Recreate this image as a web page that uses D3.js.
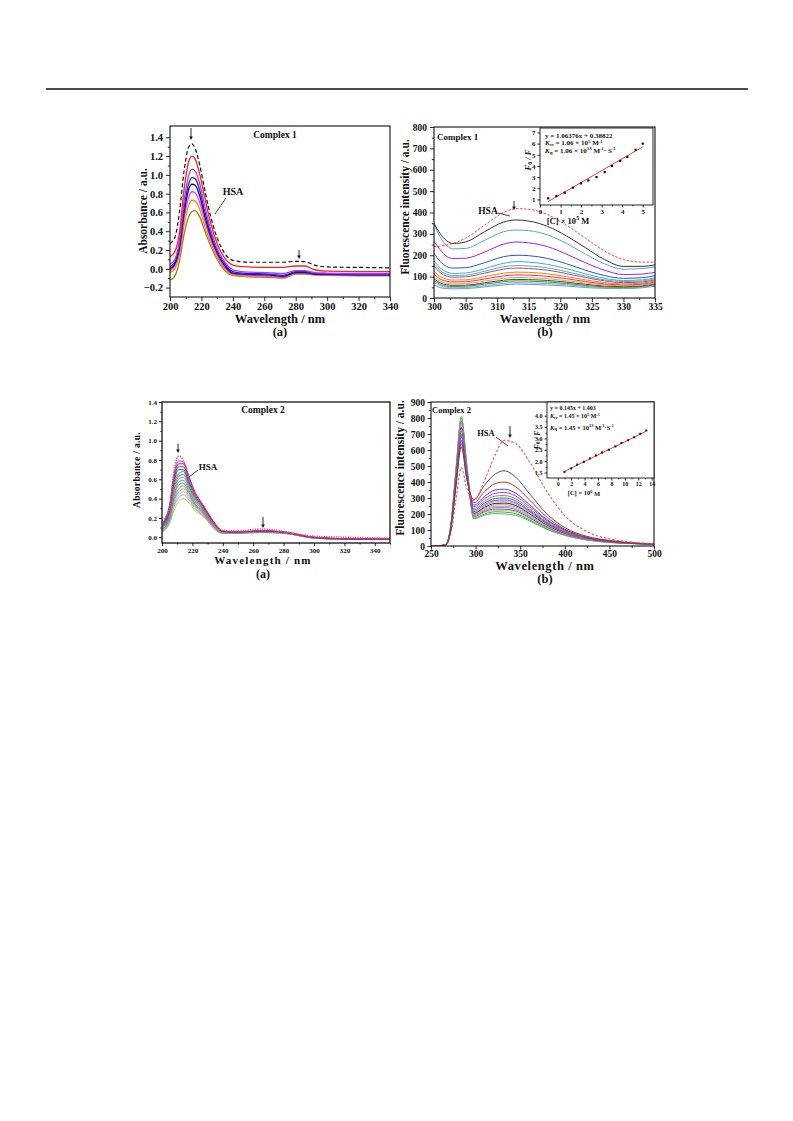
<!DOCTYPE html>
<html><head><meta charset="utf-8">
<script src="https://cdn.jsdelivr.net/npm/d3@7"></script>
<style>body{margin:0;background:#fff}svg{display:block}text{font-family:'Liberation Serif','Times New Roman',serif;font-weight:bold;fill:#111}</style>
</head><body><svg id="c" width="793" height="1121"></svg>
<script>
// ---------- Panel 1(a): Complex 1 absorbance ----------
const p1aWL = [200,203,206,209,212,214,216,219,222,226,230,235,240,250,262,272,280,286,292,300,320,340];
const p1aHSA    = [0.27,0.33,0.6,1.05,1.3,1.33,1.28,1.1,0.85,0.55,0.33,0.16,0.09,0.07,0.07,0.07,0.08,0.075,0.04,0.02,0.015,0.01];
const p1aRed    = [0.13,0.18,0.38,0.85,1.15,1.2,1.17,1.0,0.77,0.48,0.27,0.11,0.04,0.02,0.015,0.015,0.03,0.03,-0.01,-0.025,-0.03,-0.03];
const p1aViolet = [0.05,0.1,0.3,0.73,1.0,1.06,1.04,0.9,0.68,0.41,0.22,0.07,-0.01,-0.035,-0.04,-0.05,-0.02,-0.02,-0.04,-0.045,-0.05,-0.05];
const p1aBlue   = [0.02,0.07,0.25,0.66,0.91,0.97,0.96,0.83,0.62,0.37,0.19,0.05,-0.03,-0.05,-0.055,-0.07,-0.03,-0.03,-0.05,-0.055,-0.06,-0.06];
const p1aNavy   = [0.0,0.05,0.22,0.6,0.85,0.9,0.89,0.77,0.57,0.34,0.17,0.03,-0.045,-0.06,-0.065,-0.08,-0.04,-0.04,-0.055,-0.06,-0.065,-0.065];
const p1aMag    = [-0.02,0.03,0.19,0.54,0.77,0.82,0.81,0.7,0.52,0.31,0.15,0.01,-0.055,-0.07,-0.075,-0.09,-0.045,-0.045,-0.06,-0.065,-0.07,-0.07];
const p1aOrange = [-0.04,0.0,0.15,0.47,0.68,0.73,0.72,0.63,0.46,0.27,0.12,-0.01,-0.065,-0.08,-0.08,-0.095,-0.05,-0.05,-0.065,-0.07,-0.07,-0.07];
const p1aOlive  = [-0.12,-0.08,0.08,0.37,0.56,0.61,0.62,0.55,0.41,0.24,0.1,-0.02,-0.07,-0.085,-0.09,-0.1,-0.055,-0.055,-0.065,-0.07,-0.075,-0.075];
const p1aXTicks = [200,220,240,260,280,300,320,340];
const p1aYTicks = [-0.2,0.0,0.2,0.4,0.6,0.8,1.0,1.2,1.4];

// ---------- Panel 1(b): Complex 1 fluorescence ----------
const p1bWL = [300,301,302,303,305,308,311,313,315,318,321,324,327,330,333,335];
const p1bHSA = [240,243,248,255,280,340,400,418,415,390,340,280,220,180,168,168];
const p1bS1  = [350,300,268,255,262,310,355,365,360,335,290,235,180,148,148,155];
const p1bS2  = [345,285,245,230,232,270,310,318,315,295,255,205,160,135,138,145];
const p1bS3  = [265,225,195,185,186,215,252,262,258,240,205,165,130,110,112,120];
const p1bS4  = [210,170,148,140,142,165,193,200,198,185,160,130,105,92,95,105];
const p1bS5  = [175,140,122,115,117,137,162,170,168,157,137,113,92,82,85,95];
const p1bS6  = [160,128,112,105,107,125,146,152,150,141,123,103,85,77,80,90];
const p1bS7  = [150,118,103,97,99,116,135,140,138,130,114,96,80,72,75,85];
const p1bS8  = [125,100,88,84,85,100,116,121,120,113,100,85,72,66,70,80];
const p1bS9  = [112,88,78,75,76,89,103,108,107,101,90,77,66,61,65,75];
const p1bS10 = [100,78,69,66,67,79,92,96,95,90,81,70,61,57,61,70];
const p1bS11 = [90,70,62,59,60,71,83,87,86,82,74,64,56,53,57,66];
const p1bS12 = [82,63,56,54,55,65,76,80,79,75,68,59,52,50,54,62];
const p1bS13 = [72,56,50,48,49,58,68,72,71,68,62,54,48,47,51,58];
const p1bS14 = [62,48,44,43,44,52,61,65,64,61,56,49,45,44,48,55];
const p1bXTicks = [300,305,310,315,320,325,330,335];
const p1bYTicks = [0,100,200,300,400,500,600,700,800];
// inset 1(b)
const ins1X = [0.4,0.8,1.2,1.6,2.0,2.35,2.75,3.15,3.5,3.9,4.25,4.65,5.0];
const ins1Y = [1.1,1.3,1.6,2.05,2.45,2.7,3.0,3.45,4.0,4.45,4.8,5.45,6.0];
const ins1Fit = [1.06376, 0.38822];
const ins1XTicks = [0,1,2,3,4,5];
const ins1YTicks = [1,2,3,4,5,6,7];

// ---------- Panel 2(a): Complex 2 absorbance ----------
const p2aWL = [200,205,208,211,214,218,222,226,230,235,240,250,265,280,300,320,350];
const p2aHSA = [0.17,0.3,0.7,0.84,0.8,0.6,0.42,0.33,0.22,0.12,0.07,0.065,0.085,0.06,0.01,0.0,-0.01];
const p2aS1  = [0.14,0.34,0.66,0.79,0.78,0.62,0.46,0.36,0.26,0.14,0.065,0.055,0.07,0.055,0.0,-0.015,-0.02];
const p2aS2  = [0.13,0.32,0.63,0.76,0.76,0.6,0.45,0.35,0.25,0.135,0.063,0.054,0.068,0.054,0.0,-0.015,-0.02];
const p2aS3  = [0.12,0.3,0.6,0.73,0.73,0.58,0.43,0.34,0.245,0.13,0.06,0.053,0.066,0.053,-0.002,-0.016,-0.02];
const p2aS4  = [0.11,0.28,0.57,0.7,0.7,0.56,0.42,0.33,0.24,0.125,0.058,0.052,0.064,0.052,-0.003,-0.017,-0.02];
const p2aS5  = [0.10,0.27,0.54,0.66,0.68,0.54,0.40,0.32,0.23,0.12,0.056,0.051,0.062,0.05,-0.004,-0.018,-0.02];
const p2aS6  = [0.09,0.25,0.5,0.63,0.65,0.52,0.39,0.31,0.22,0.115,0.054,0.05,0.06,0.049,-0.005,-0.018,-0.02];
const p2aS7  = [0.085,0.24,0.47,0.6,0.62,0.5,0.37,0.3,0.21,0.11,0.052,0.048,0.058,0.048,-0.006,-0.019,-0.02];
const p2aS8  = [0.08,0.22,0.44,0.57,0.59,0.48,0.36,0.29,0.2,0.105,0.05,0.047,0.056,0.046,-0.007,-0.019,-0.02];
const p2aS9  = [0.075,0.21,0.42,0.54,0.56,0.46,0.34,0.28,0.195,0.1,0.048,0.046,0.055,0.045,-0.008,-0.02,-0.02];
const p2aS10 = [0.07,0.2,0.39,0.5,0.53,0.44,0.33,0.27,0.19,0.095,0.046,0.045,0.053,0.044,-0.008,-0.02,-0.02];
const p2aS11 = [0.065,0.18,0.37,0.47,0.5,0.42,0.32,0.26,0.18,0.09,0.045,0.044,0.052,0.043,-0.009,-0.02,-0.02];
const p2aS12 = [0.06,0.17,0.34,0.44,0.47,0.4,0.3,0.25,0.175,0.085,0.043,0.043,0.05,0.042,-0.01,-0.02,-0.02];
const p2aS13 = [0.055,0.16,0.32,0.41,0.44,0.38,0.29,0.24,0.17,0.08,0.042,0.042,0.049,0.041,-0.01,-0.02,-0.02];
const p2aS14 = [0.05,0.14,0.28,0.37,0.4,0.35,0.27,0.23,0.165,0.075,0.04,0.04,0.047,0.04,-0.01,-0.02,-0.02];
const p2aXTicks = [200,220,240,260,280,300,320,340];
const p2aYTicks = [0.0,0.2,0.4,0.6,0.8,1.0,1.2,1.4];

// ---------- Panel 2(b): Complex 2 fluorescence ----------
const p2bWL = [250,266,272,278,284,290,298,310,322,332,345,360,380,400,425,450,500];
const p2bHSA = [0,3,70,290,490,360,285,410,570,660,640,530,340,190,90,45,15];
const p2bS1  = [0,5,90,370,620,420,290,380,450,470,430,330,200,115,60,35,12];
const p2bS2  = [0,5,95,385,640,430,270,340,390,400,370,290,180,105,55,32,12];
const p2bS3  = [0,5,100,395,660,440,255,310,350,355,330,260,165,100,52,30,12];
const p2bS4  = [0,5,100,405,680,450,245,295,330,335,312,248,158,95,50,29,12];
const p2bS5  = [0,5,105,410,690,455,235,280,312,315,295,235,150,90,48,28,12];
const p2bS6  = [0,5,105,420,700,460,225,268,297,300,282,225,145,87,47,27,12];
const p2bS7  = [0,5,108,430,720,470,215,258,285,288,270,217,140,85,46,27,12];
const p2bS8  = [0,5,110,435,730,475,210,250,276,278,262,210,136,83,45,26,12];
const p2bS9  = [0,5,110,440,740,480,205,242,266,268,253,204,132,80,44,26,12];
const p2bS10 = [0,5,112,448,750,485,200,235,257,258,244,197,128,78,43,25,12];
const p2bS11 = [0,5,114,452,760,490,195,228,248,248,235,190,124,76,42,25,12];
const p2bS12 = [0,5,115,458,770,495,190,222,240,240,228,185,120,74,41,24,12];
const p2bS13 = [0,5,117,465,780,500,185,215,231,230,219,178,116,72,40,24,12];
const p2bS14 = [0,5,118,470,790,505,180,208,223,222,211,172,112,70,39,23,12];
const p2bS15 = [0,5,120,476,800,510,175,200,214,212,202,165,108,68,38,23,12];
const p2bS16 = [0,5,121,482,810,515,170,192,203,200,192,158,104,66,37,22,12];
const p2bXTicks = [250,300,350,400,450,500];
const p2bYTicks = [0,100,200,300,400,500,600,700,800,900];
// inset 2(b)
const ins2X = [1,2,2.9,3.9,4.8,5.7,6.6,7.6,8.6,9.5,10.5,11.4,12.3,13.2];
const ins2Y = [1.53,1.68,1.85,1.97,2.12,2.25,2.38,2.5,2.65,2.8,2.92,3.05,3.2,3.35];
const ins2Fit = [0.145, 1.403];
const ins2XTicks = [0,2,4,6,8,10,12,14];
const ins2YTicks = [1.5,2.0,2.5,3.0,3.5,4.0];

// ---------------- drawing ----------------
const svg = d3.select('#c');
svg.append('line').attr('x1',46).attr('x2',748).attr('y1',89).attr('y2',89).attr('stroke','#111').attr('stroke-width',1.6);

let clipN = 0;
function makePanel(o){
  const x = d3.scaleLinear().domain(o.xd).range([o.l,o.r]);
  const y = d3.scaleLinear().domain(o.yd).range([o.b,o.t]);
  const g = svg.append('g');
  if(o.bg) g.append('rect').attr('x',o.l).attr('y',o.t).attr('width',o.r-o.l).attr('height',o.b-o.t).attr('fill','#fff');
  const id = 'clip'+(clipN++);
  g.append('clipPath').attr('id',id).append('rect').attr('x',o.l).attr('y',o.t).attr('width',o.r-o.l).attr('height',o.b-o.t);
  const plot = g.append('g').attr('clip-path',`url(#${id})`);
  const fmt = o.fmt || (d=>d);
  const gx = g.append('g').attr('transform',`translate(0,${o.b})`)
    .call(d3.axisBottom(x).tickValues(o.xt).tickSize(o.tk).tickPadding(o.tpx!=null?o.tpx:o.tp).tickFormat(d=>d));
  const gy = g.append('g').attr('transform',`translate(${o.l},0)`)
    .call(d3.axisLeft(y).tickValues(o.yt).tickSize(o.tk).tickPadding(o.tp).tickFormat(fmt));
  if(o.xMinor) g.append('g').attr('transform',`translate(0,${o.b})`).call(d3.axisBottom(x).tickValues(o.xMinor).tickSize(o.tk*0.55).tickFormat(''));
  if(o.yMinor) g.append('g').attr('transform',`translate(${o.l},0)`).call(d3.axisLeft(y).tickValues(o.yMinor).tickSize(o.tk*0.55).tickFormat(''));
  g.selectAll('.domain').remove();
  g.selectAll('.tick line').attr('stroke','#111').attr('stroke-width',0.9);
  [gx,gy].forEach(a=>a.selectAll('text').style('font-family',"'Liberation Serif',serif").style('font-weight','bold').style('font-size',o.fs+'px').attr('fill','#111'));
  g.append('rect').attr('x',o.l).attr('y',o.t).attr('width',o.r-o.l).attr('height',o.b-o.t).attr('fill','none').attr('stroke','#111').attr('stroke-width',o.sw||1.1);
  return {x,y,g,plot};
}
function mids(t){const m=[];for(let i=0;i<t.length-1;i++)m.push((t[i]+t[i+1])/2);return m;}
function drawSeries(P, wl, vals, color, w, dash){
  const line = d3.line().x((d,i)=>P.x(wl[i])).y(d=>P.y(d)).curve(d3.curveMonotoneX);
  P.plot.append('path').attr('d',line(vals)).attr('fill','none').attr('stroke',color).attr('stroke-width',w).attr('stroke-dasharray',dash||null);
}
function txt(x,y,s,size,anchor,rot){
  const t = svg.append('text').attr('x',x).attr('y',y).attr('font-size',size).attr('text-anchor',anchor||'middle').attr('dominant-baseline','central').text(s);
  if(rot) t.attr('transform',`rotate(${rot},${x},${y})`);
  return t;
}
function arrow(x,y1,y2){
  svg.append('line').attr('x1',x).attr('x2',x).attr('y1',y1).attr('y2',y2-2).attr('stroke','#111').attr('stroke-width',0.9);
  svg.append('path').attr('d',`M${x-1.8},${y2-3.5}L${x+1.8},${y2-3.5}L${x},${y2}Z`).attr('fill','#111');
}
function leader(x1,y1,x2,y2){svg.append('line').attr('x1',x1).attr('y1',y1).attr('x2',x2).attr('y2',y2).attr('stroke','#111').attr('stroke-width',0.8);}
function sup(t,s,fs,d){t.append('tspan').attr('font-size',fs).attr('dy',-d).text(s);}
function sub(t,s,fs,d){t.append('tspan').attr('font-size',fs).attr('dy',d).text(s);}
function norm(t,s,d){t.append('tspan').attr('dy',d).text(s);}

// ===== Panel 1a =====
const A = makePanel({l:170,r:390,t:126,b:297,xd:[200,340],yd:[-0.3,1.52],xt:p1aXTicks,yt:p1aYTicks,
  xMinor:mids(p1aXTicks),yMinor:mids(p1aYTicks),tk:4,tp:3,tpx:1.5,fs:10.5,fmt:d3.format('.1f')});
const p1aSeries=[p1aOlive,p1aOrange,p1aMag,p1aNavy,p1aBlue,p1aViolet,p1aRed];
const p1aColors=['#8a8a10','#ff8c00','#ff30ff','#10104a','#2020ff','#b040e0','#ff2020'];
p1aSeries.forEach((s,i)=>drawSeries(A,p1aWL,s,p1aColors[i],1.3));
drawSeries(A,p1aWL,p1aHSA,'#111',1.2,'4,2.5');
txt(275,135,'Complex 1',9.5);
arrow(191,128,140);
arrow(299,250,259);
txt(233,191,'HSA',10);
leader(226,198,215,214);
txt(143,211,'Absorbance / a.u.',11.5,'middle',-90);
txt(280,319,'Wavelength / nm',12.5);
txt(280,332,'(a)',12.5);

// ===== Panel 1b =====
const B = makePanel({l:434,r:655,t:127,b:298,xd:[300,335],yd:[0,800],xt:p1bXTicks,yt:p1bYTicks,
  xMinor:mids(p1bXTicks),yMinor:mids(p1bYTicks),tk:4,tp:3,tpx:1,fs:9.5});
const p1bSeries=[p1bS14,p1bS13,p1bS12,p1bS11,p1bS10,p1bS9,p1bS8,p1bS7,p1bS6,p1bS5,p1bS4,p1bS3,p1bS2,p1bS1];
const p1bColors=['#7090e0','#60b0ff','#808000','#008000','#ff80c0','#ff3030','#ff8000','#6060d0','#a09090','#20c0c0','#3050e0','#a020f0','#5f9bea','#333333'];
p1bSeries.forEach((s,i)=>drawSeries(B,p1bWL,s,p1bColors[i],1));
drawSeries(B,p1bWL,p1bHSA,'#ff4040',1,'2.5,1.5');
txt(437,137,'Complex 1',9,'start');
arrow(514,201,210);
txt(488,211,'HSA',9.5);
leader(498,213,510,216);
txt(405,207,'Fluorescence intensity / a.u.',11.5,'middle',-90);
txt(545,318.5,'Wavelength / nm',12.5);
txt(545,332,'(b)',12.5);
// inset 1b
const I1 = makePanel({l:540,r:653,t:128,b:205,xd:[0,5.5],yd:[0.5,7.4],xt:ins1XTicks,yt:ins1YTicks,
  xMinor:mids(ins1XTicks),yMinor:null,tk:2.5,tp:2,tpx:1.5,fs:7,sw:0.9,bg:true});
I1.plot.append('line').attr('x1',I1.x(0.4)).attr('x2',I1.x(5.0)).attr('y1',I1.y(ins1Fit[0]*0.4+ins1Fit[1])).attr('y2',I1.y(ins1Fit[0]*5.0+ins1Fit[1])).attr('stroke','#ff3030').attr('stroke-width',1);
I1.plot.selectAll('.pt').data(ins1X).enter().append('rect').attr('x',(d)=>I1.x(d)-1.1).attr('y',(d,i)=>I1.y(ins1Y[i])-1.1).attr('width',2.2).attr('height',2.2).attr('fill','#111');
txt(545,135.5,'y = 1.06376x + 0.38822',7,'start');
{const t=txt(545,143,'',7,'start');t.append('tspan').attr('font-style','italic').text('K');sub(t,'sv',4.5,1.3);norm(t,' = 1.06 × 10',-1.3);sup(t,'5',5,2.2);norm(t,' M',2.2);sup(t,'-1',4.5,2.2);}
{const t=txt(545,150.5,'',7,'start');t.append('tspan').attr('font-style','italic').text('K');sub(t,'q',5,1.3);norm(t,' = 1.06 × 10',-1.3);sup(t,'13',5,2.2);norm(t,' M',2.2);sup(t,'-1',4.5,2.2);norm(t,'· S',2.2);sup(t,'-1',4.5,2.2);}
{const t=txt(528,160,'',8.5,'middle',-90);t.append('tspan').attr('font-style','italic').text('F');sub(t,'0',6,1.5);t.append('tspan').attr('dy',-1.5).attr('font-style','italic').text(' / F');}
{const t=txt(568,220.5,'',8.5,'middle');t.text('[C] × 10');sup(t,'5',6,2.8);norm(t,' M',2.8);}

// ===== Panel 2a =====
const C = makePanel({l:162,r:390,t:402,b:543,xd:[200,350],yd:[-0.06,1.4],xt:p2aXTicks,yt:p2aYTicks,
  xMinor:mids(p2aXTicks).concat([350]),yMinor:mids(p2aYTicks),tk:3,tp:2,fs:7,fmt:d3.format('.1f'),sw:1.3});
const p2aSeries=[p2aS14,p2aS13,p2aS12,p2aS11,p2aS10,p2aS9,p2aS8,p2aS7,p2aS6,p2aS5,p2aS4,p2aS3,p2aS2,p2aS1];
const p2aColors=['#c8d040','#8aa0c0','#90c0f0','#ff70a0','#a0a040','#30b060','#7090b0','#30c0d0','#ff4040','#20a0a0','#3050e0','#20704a','#8020c0','#e020a0'];
p2aSeries.forEach((s,i)=>drawSeries(C,p2aWL,s,p2aColors[i],1));
drawSeries(C,p2aWL,p2aHSA,'#ff5050',1.6,'1.2,1.2');
txt(263,410,'Complex 2',9.5);
arrow(178,444,453);
arrow(263,517,528);
txt(208,467,'HSA',9);
leader(198,470,189,477);
txt(137,470,'Absorbance / a.u.',9.5,'middle',-90).attr('letter-spacing',0.3);
txt(263,560,'Wavelength / nm',11).attr('letter-spacing',1.2);
txt(263,574,'(a)',12);

// ===== Panel 2b =====
const D = makePanel({l:431,r:654,t:402,b:546,xd:[250,500],yd:[0,900],xt:p2bXTicks,yt:p2bYTicks,
  xMinor:mids(p2bXTicks),yMinor:mids(p2bYTicks),tk:3.5,tp:2.5,tpx:1,fs:9.5});
const p2bSeries=[p2bS16,p2bS15,p2bS14,p2bS13,p2bS12,p2bS11,p2bS10,p2bS9,p2bS8,p2bS7,p2bS6,p2bS5,p2bS4,p2bS3,p2bS2,p2bS1];
const p2bColors=['#30d040','#808080','#90e090','#a06030','#c060ff','#40d0f0','#ff9020','#202080','#ff80c0','#209090','#8040c0','#70a030','#e020e0','#3050ff','#e02020','#505050'];
p2bSeries.forEach((s,i)=>drawSeries(D,p2bWL,s,p2bColors[i],1));
drawSeries(D,p2bWL,p2bHSA,'#ff5050',1.1,'2.5,1.8');
txt(432,410,'Complex 2',8.5,'start');
arrow(510,426,438);
txt(486,433,'HSA',8.5);
leader(496,437,508,446);
txt(400,468,'Fluorescence intensity / a.u.',11.5,'middle',-90);
txt(545,566,'Wavelength / nm',12.5).attr('letter-spacing',0.6);
txt(545,578.5,'(b)',12.5);
// inset 2b
const I2 = makePanel({l:547,r:654,t:402,b:478,xd:[-1.6,14.35],yd:[1.26,4.6],xt:ins2XTicks,yt:ins2YTicks,
  xMinor:mids(ins2XTicks),yMinor:mids(ins2YTicks),tk:2.5,tp:2,tpx:1.5,fs:6,fmt:d3.format('.1f'),sw:0.9,bg:true});
I2.plot.append('line').attr('x1',I2.x(1)).attr('x2',I2.x(13.2)).attr('y1',I2.y(ins2Fit[0]*1+ins2Fit[1])).attr('y2',I2.y(ins2Fit[0]*13.2+ins2Fit[1])).attr('stroke','#ff3030').attr('stroke-width',1);
I2.plot.selectAll('.pt').data(ins2X).enter().append('rect').attr('x',(d)=>I2.x(d)-1).attr('y',(d,i)=>I2.y(ins2Y[i])-1).attr('width',2).attr('height',2).attr('fill','#111');
txt(550,407.5,'y = 0.145x + 1.403',6,'start');
{const t=txt(550,416,'',6,'start');t.append('tspan').attr('font-style','italic').text('K');sub(t,'sv',4,1.1);norm(t,' = 1.45 × 10',-1.1);sup(t,'5',4.5,1.8);norm(t,' M',1.8);sup(t,'-1',4,1.8);}
{const t=txt(550,427,'',6.5,'start');t.append('tspan').attr('font-style','italic').text('K');sub(t,'q',5,1.2);norm(t,' = 1.45 × 10',-1.2);sup(t,'13',4.5,1.8);norm(t,' M',1.8);sup(t,'-1',4,1.8);norm(t,'·S',1.8);sup(t,'-1',4,1.8);}
{const t=txt(537,440,'',7.5,'middle',-90);t.append('tspan').attr('font-style','italic').text('F');sub(t,'0',5.5,1.3);t.append('tspan').attr('dy',-1.3).attr('font-style','italic').text(' / F');}
{const t=txt(584,492.5,'',6.5,'middle');t.text('[C] = 10');sup(t,'6',4.5,2);norm(t,' M',2);}
</script></body></html>
